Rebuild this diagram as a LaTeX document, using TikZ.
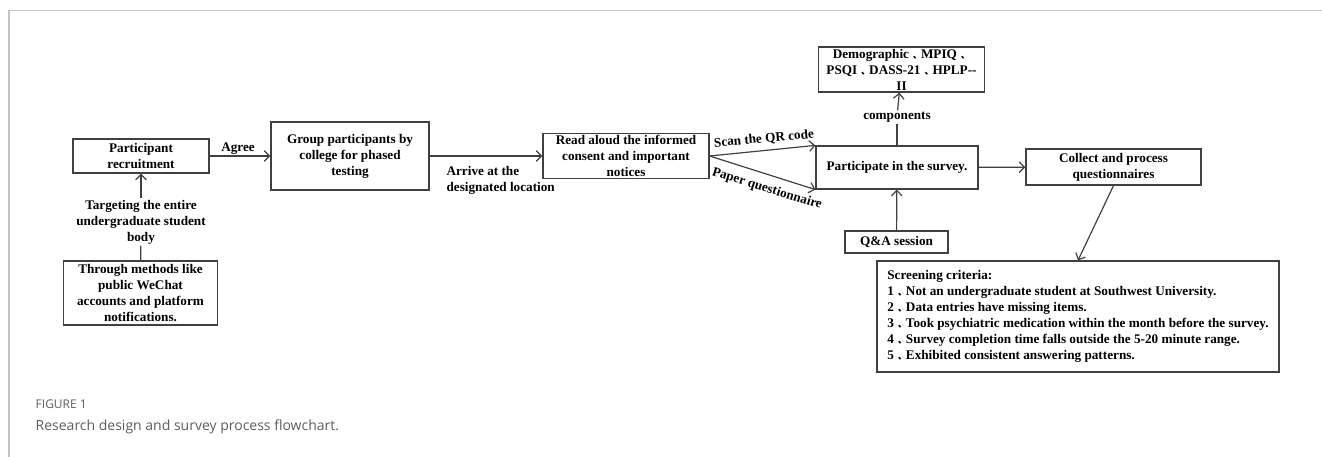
\documentclass[tikz,border=0pt]{standalone}
\usepackage{fontspec}
\setmainfont{Liberation Serif}
\newfontfamily\capfont{Open Sans}
\newfontfamily\cjk{Noto Sans CJK SC}
\newcommand{\dun}{\hspace{0.3em}{\cjk\fontsize{7}{7}\selectfont 、}\hspace{-0.1em}}
\definecolor{framegray}{HTML}{C4C4C4}
\definecolor{capgray}{HTML}{5C5C5C}
\usetikzlibrary{arrows.meta}

\begin{document}
\begin{tikzpicture}[
  x=0.75pt, y=-0.75pt,
  every node/.style={font=\bfseries\fontsize{9.9}{12}\selectfont},
  box/.style={draw=black!75,line width=0.9pt,align=center,inner sep=1pt},
  lbl/.style={align=center,inner sep=1pt},
  arr/.style={-{Straight Barb[length=4pt,width=8pt]},line width=0.9pt,draw=black!75}
]
\useasboundingbox (0,0) rectangle (1322,457);
\draw[framegray,line width=0.9pt] (9,457) -- (9,10.5) -- (1322,10.5);

\node[box,minimum width=102pt,minimum height=25.5pt] (rec) at (141,156) {Participant\\recruitment};
\node[lbl] (target) at (141,222) {Targeting the entire\\undergraduate student\\body};
\node[box,minimum width=116pt,minimum height=48pt] (meth) at (140.5,293) {Through methods like\\public WeChat\\accounts and platform\\notifications.};
\node[box,minimum width=118.5pt,minimum height=51pt] (grp) at (350,156) {Group participants by\\college for phased\\testing};
\node[box,minimum width=124.5pt,minimum height=33.75pt] (read) at (626,156) {Read aloud the informed\\consent and important\\notices};
\node[box,minimum width=121.5pt,minimum height=32.25pt] (part) at (897,167.5) {Participate in the survey.};
\node[box,minimum width=125pt,minimum height=33.75pt] (demo) at (901.5,69.5) {Demographic\dun MPIQ\dun\\PSQI\dun DASS-21\dun HPLP-{}-\\II};
\node[box,minimum width=77.25pt,minimum height=16.5pt] (qa) at (896.5,242) {Q\&A session};
\node[box,minimum width=131.25pt,minimum height=27pt] (col) at (1113.5,167) {Collect and process\\questionnaires};
\node[box,align=left,minimum width=301.5pt,minimum height=83.25pt] (scr) at (1078,316.5) {Screening criteria:\\
1\dun Not an undergraduate student at Southwest University.\\
2\dun Data entries have missing items.\\
3\dun Took psychiatric medication within the month before the survey.\\
4\dun Survey completion time falls outside the 5-20 minute range.\\
5\dun Exhibited consistent answering patterns.};

\node[lbl] (agree) at (238,149) {Agree};
\node[lbl,align=left,anchor=west] (arrive) at (445,180) {Arrive at the\\designated location};
\node[lbl,rotate=5.3] (scan) at (764,139) {Scan the QR code};
\node[lbl,rotate=-17] (paper) at (767,189) {Paper questionnaire};
\node[lbl] (comp) at (897,117) {components};

\draw[line width=0.9pt,black!75] (meth) -- (target);
\draw[arr] (target) -- (rec);
\draw[arr] (rec) -- (grp);
\draw[arr] (grp) -- (read);
\draw[arr] (read.east) -- (part.north west);
\draw[arr] (read.east) -- (part.south west);
\draw[line width=0.9pt,black!75] (part) -- (comp);
\draw[arr] (comp) -- (demo);
\draw[arr] (qa) -- (part);
\draw[arr] (part) -- (col);
\draw[arr] (col.south) -- (scr.north);

\node[anchor=west,font=\capfont\fontsize{9}{11}\selectfont,text=capgray] (fig) at (31,404) {FIGURE 1};
\node[anchor=west,font=\capfont\fontsize{10.5}{13}\selectfont,text=capgray] (cap) at (31,427) {Research design and survey process flowchart.};
\end{tikzpicture}
\end{document}
